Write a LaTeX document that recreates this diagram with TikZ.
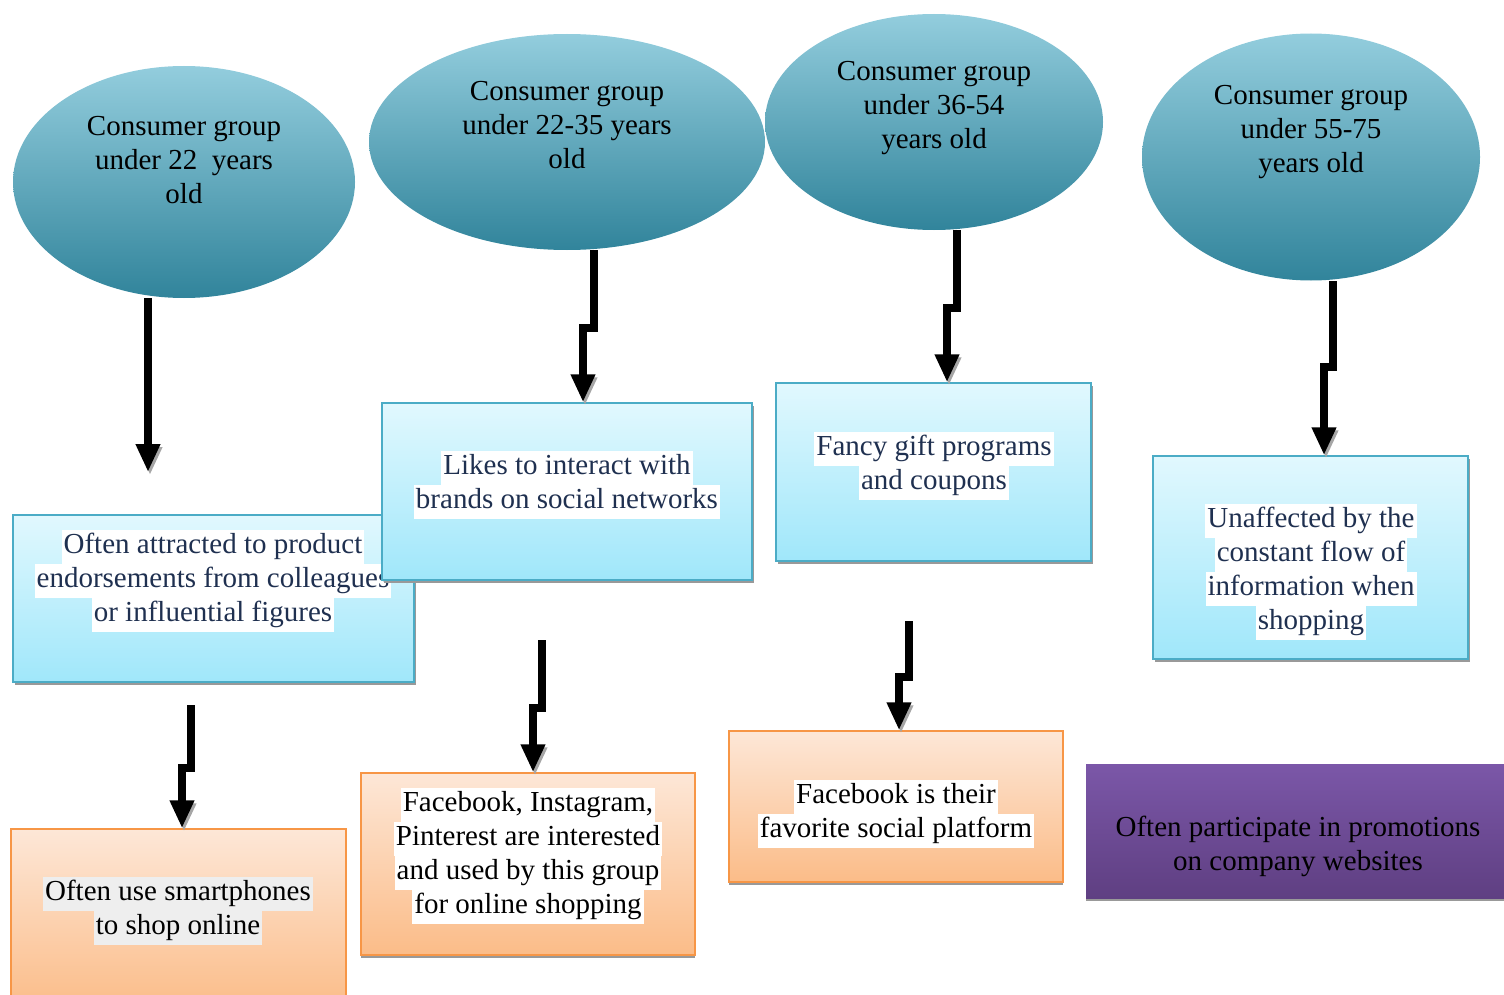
\documentclass[tikz,border=0pt]{standalone}
\usepackage{fontspec}
\setmainfont{Liberation Serif}
\usetikzlibrary{shapes.geometric,shadows,arrows.meta}

\definecolor{ellTop}{HTML}{93CDDD}
\definecolor{ellMid}{HTML}{4BACC6}
\definecolor{ellBot}{HTML}{31849B}
\definecolor{blueTop}{HTML}{E1F8FE}
\definecolor{blueBot}{HTML}{A0E7FA}
\definecolor{blueLine}{HTML}{4BACC6}
\definecolor{orTop}{HTML}{FDE7D7}
\definecolor{orBot}{HTML}{FBBC88}
\definecolor{orLine}{HTML}{F79646}
\definecolor{purTop}{HTML}{7B57A8}
\definecolor{purBot}{HTML}{5F3F82}
\definecolor{navyText}{HTML}{1F3050}
\definecolor{hlGray}{HTML}{EEEEEE}

\newcommand{\hlw}[1]{{\setlength{\fboxsep}{0pt}\colorbox{white}{\strut\kern1pt#1\kern1pt}}}
\newcommand{\hlg}[1]{{\setlength{\fboxsep}{0pt}\colorbox{hlGray}{\strut\kern1pt#1\kern1pt}}}

\tikzset{every picture/.style={line width=0.75pt}}

\begin{document}
\begin{tikzpicture}[x=0.5pt,y=0.5pt,yscale=-1,xscale=1,
    grpell/.style={ellipse, draw=none, inner sep=0pt, top color=ellTop, middle color=ellMid, bottom color=ellBot},
    grptxt/.style={align=center, inner sep=0pt, font=\fontsize{14.5}{17}\selectfont},
    bluebox/.style={rectangle, draw=blueLine, top color=blueTop, bottom color=blueBot, inner sep=0pt,
        drop shadow={shadow xshift=1pt, shadow yshift=-1.5pt, fill=gray!80, opacity=1}},
    orbox/.style={rectangle, draw=orLine, top color=orTop, bottom color=orBot, inner sep=0pt,
        drop shadow={shadow xshift=0pt, shadow yshift=-1.5pt, fill=gray!80, opacity=1}},
    purbox/.style={rectangle, draw=none, top color=purTop, bottom color=purBot, inner sep=0pt,
        drop shadow={shadow xshift=0pt, shadow yshift=-1.5pt, fill=gray!80, opacity=1}},
    boxtxt/.style={align=center, inner sep=0pt, font=\fontsize{14.5}{17}\selectfont},
    flow/.style={line width=4pt, line join=miter, -{Triangle[width=11.5pt,length=14pt]},
        preaction={draw=gray!70, transform canvas={xshift=1pt, yshift=-1.5pt}}}
    ]
\useasboundingbox (0,0) rectangle (1504,995);

% consumer groups
\node (e1) [grpell, minimum width=171pt, minimum height=116pt] at (184,182) {};
\node (e2) [grpell, minimum width=198pt, minimum height=108pt] at (567,142) {};
\node (e3) [grpell, minimum width=169pt, minimum height=108pt] at (934,122) {};
\node (e4) [grpell, minimum width=169pt, minimum height=123.5pt] at (1311,157) {};
\node (e1t) [grptxt] at (184,160) {Consumer group\\under 22\ \ years\\old};
\node (e2t) [grptxt] at (567,125) {Consumer group\\under 22-35 years\\old};
\node (e3t) [grptxt] at (934,108) {Consumer group\\under 36-54\\years old};
\node (e4t) [grptxt] at (1311,132) {Consumer group\\under 55-75\\years old};

% blue boxes
\node (b1) [bluebox, minimum width=200.5pt, minimum height=83.5pt] at (213.5,598.5) {};
\node (b1t) [boxtxt, text=navyText] at (213,581) {\hlw{Often attracted to product}\\\hlw{endorsements from colleagues}\\\hlw{or influential figures}};
\node (b2) [bluebox, minimum width=185pt, minimum height=88.5pt] at (567,491.5) {};
\node (b2t) [boxtxt, text=navyText] at (567,485) {\hlw{Likes to interact with}\\\hlw{brands on social networks}};
\node (b3) [bluebox, minimum width=157.5pt, minimum height=89pt] at (933.5,472) {};
\node (b3t) [boxtxt, text=navyText] at (934,466) {\hlw{Fancy gift programs}\\\hlw{and coupons}};
\node (b4) [bluebox, minimum width=157.5pt, minimum height=101.5pt] at (1310.5,557.5) {};
\node (b4t) [boxtxt, text=navyText] at (1311,572) {\hlw{Unaffected by the}\\\hlw{constant flow of}\\\hlw{information when}\\\hlw{shopping}};

% orange boxes
\node (o1) [orbox, minimum width=167.5pt, minimum height=90.5pt] at (178.5,919.5) {};
\node (o1t) [boxtxt] at (178,911) {\hlg{Often use smartphones}\\\hlg{to shop online}};
\node (o2) [orbox, minimum width=167pt, minimum height=91pt] at (528,864) {};
\node (o2t) [boxtxt] at (528,856) {\hlw{Facebook, Instagram,}\\\hlw{Pinterest are interested}\\\hlw{and used by this group}\\\hlw{for online shopping}};
\node (o3) [orbox, minimum width=167pt, minimum height=75.5pt] at (896,806.5) {};
\node (o3t) [boxtxt] at (896,814) {\hlw{Facebook is their}\\\hlw{favorite social platform}};
\node (p1) [purbox, minimum width=212pt, minimum height=67pt] at (1298,831) {};
\node (p1t) [boxtxt] at (1298,846) {Often participate in promotions\\on company websites};

% arrows
\coordinate (a1s) at (148,298);
\coordinate (a1e) at (148,472);
\coordinate (a2s) at (594,250);
\coordinate (a2m) at (583,328);
\coordinate (a3s) at (957,230);
\coordinate (a3m) at (947,308);
\coordinate (a4s) at (1333,281);
\coordinate (a4m) at (1324,367);
\coordinate (a5s) at (191,705);
\coordinate (a5m) at (182,768);
\coordinate (a6s) at (542,640);
\coordinate (a6m) at (533,708);
\coordinate (a7s) at (909,621);
\coordinate (a7m) at (899,677);
\draw[flow] (a1s) -- (a1e);
\draw[flow] (a2s) |- (a2m) -- (a2m |- b2.north);
\draw[flow] (a3s) |- (a3m) -- (a3m |- b3.north);
\draw[flow] (a4s) |- (a4m) -- (a4m |- b4.north);
\draw[flow] (a5s) |- (a5m) -- (a5m |- o1.north);
\draw[flow] (a6s) |- (a6m) -- (a6m |- o2.north);
\draw[flow] (a7s) |- (a7m) -- (a7m |- o3.north);
\end{tikzpicture}
\end{document}
